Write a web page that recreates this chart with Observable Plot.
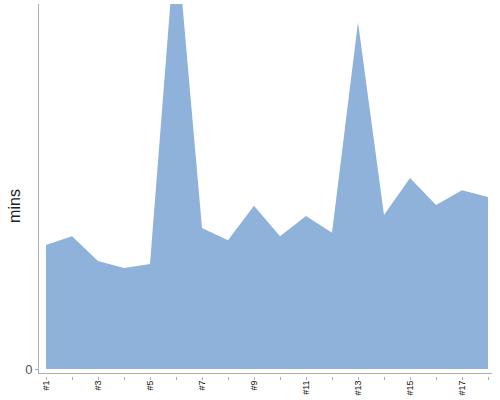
<!DOCTYPE html>
<html>
<head>
<meta charset="utf-8">
<script src="https://cdn.jsdelivr.net/npm/d3@7"></script>
<script src="https://cdn.jsdelivr.net/npm/@observablehq/plot@0.6"></script>
<style>
  html, body { margin: 0; padding: 0; background: #fff; overflow: hidden; }
  #chart { width: 500px; height: 400px; }
  #chart svg { display: block; }
</style>
</head>
<body>
<div id="chart"></div>
<script>
const labels = ["#1","#2","#3","#4","#5","#6","#7","#8","#9","#10","#11","#12","#13","#14","#15","#16","#17","#18"];
const mins = [34, 36.4, 29.6, 27.7, 28.8, 120, 38.6, 35.3, 44.7, 36.4, 41.9, 37.3, 95, 42.2, 52.3, 44.9, 49, 47.1];
const yTicks = [0];
const yLabel = "mins";

const data = labels.map((k, i) => ({k, v: mins[i]}));

const chart = Plot.plot({
  width: 500,
  height: 400,
  marginTop: 4,
  marginLeft: 38,
  marginRight: 9,
  marginBottom: 27,
  style: {fontFamily: "'Liberation Sans', Arial, sans-serif", background: "#fff"},
  x: {type: "point", domain: labels, padding: 0, insetLeft: 4},
  y: {domain: [0, 100], insetBottom: 4},
  marks: [
    Plot.areaY(data, {x: "k", y: "v", fill: "#8fb2db", clip: true}),
    Plot.frame({anchor: "left", stroke: "#b0b0b0"}),
    Plot.frame({anchor: "bottom", stroke: "#b0b0b0"}),
    Plot.axisY({ticks: yTicks, tickSize: 3, tickPadding: 3, stroke: "#b0b0b0", fill: "#555", fontSize: 13, label: null}),
    Plot.text([yLabel], {frameAnchor: "left", dx: -24, dy: 17, rotate: -90, textAnchor: "middle", fontSize: 16, fill: "#222", text: d => d}),
    Plot.axisX({ticks: labels, tickSize: 3, tickPadding: 0, stroke: "#b0b0b0", fill: "#111", fontSize: 9,
      tickRotate: -90, textAnchor: "end", dy: 4, dx: 0,
      tickFormat: (d, i) => (i % 2 === 0 ? d : ""), label: null})
  ]
});
document.getElementById("chart").appendChild(chart);
</script>
</body>
</html>
